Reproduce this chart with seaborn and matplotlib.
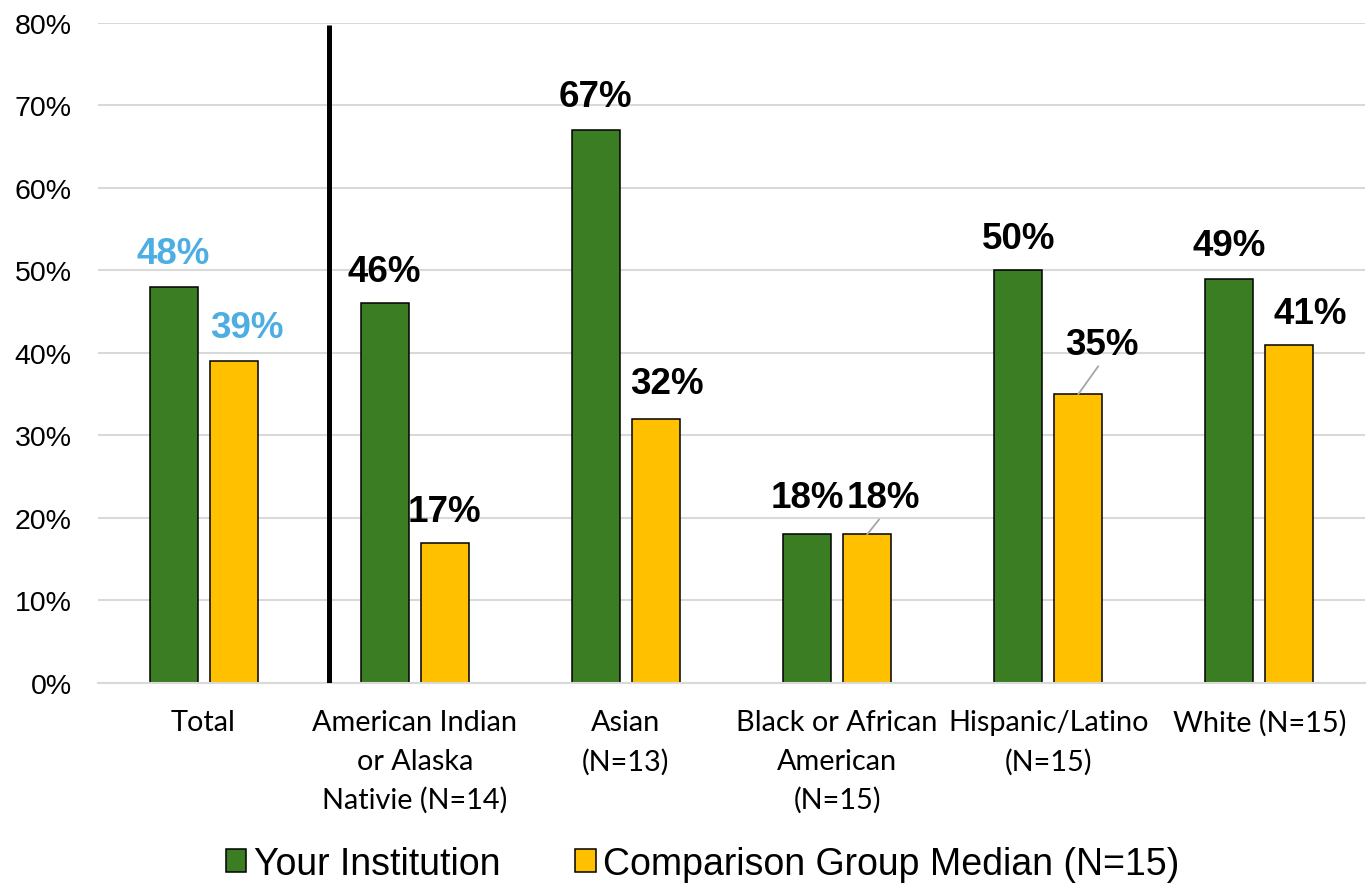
import matplotlib
matplotlib.use("Agg")
import matplotlib.pyplot as plt
from matplotlib.patches import Patch
from matplotlib.ticker import FuncFormatter
import seaborn as sns
import pandas as pd

# Completion rates by race/ethnicity
categories = [
    "Total",
    "American Indian\nor Alaska\nNativie (N=14)",
    "Asian\n(N=13)",
    "Black or African\nAmerican\n(N=15)",
    "Hispanic/Latino\n(N=15)",
    "White (N=15)",
]
series_names = ["Your Institution", "Comparison Group Median (N=15)"]
your_institution = [48, 46, 67, 18, 50, 49]
comparison_median = [39, 17, 32, 18, 35, 41]
y_ticks = [0, 10, 20, 30, 40, 50, 60, 70, 80]

GREEN = "#3A7D22"
GOLD = "#FFC000"
BLUE = "#4DAEE3"
GRID = "#D9D9D9"

df = pd.DataFrame({
    "category": categories * 2,
    "series": [series_names[0]] * len(categories) + [series_names[1]] * len(categories),
    "value": your_institution + comparison_median,
})

fig = plt.figure(figsize=(13.7, 8.87), dpi=100)
ax = fig.add_axes([0.0715, 0.2289, 0.9249, 0.7441])

sns.barplot(
    data=df, x="category", y="value", hue="series",
    order=categories, hue_order=series_names,
    palette=[GREEN, GOLD], saturation=1, width=0.568, gap=0.2,
    edgecolor="black", linewidth=1.1, legend=False, ax=ax,
)

ax.set_xlim(-0.5, len(categories) - 0.5)
ax.set_ylim(0, 80)
ax.set_yticks(y_ticks)
ax.yaxis.set_major_formatter(FuncFormatter(lambda v, _: f"{v:.0f}%"))
ax.set_xlabel("")
ax.set_ylabel("")
ax.grid(axis="y", color=GRID, linewidth=1.5, zorder=0)
ax.set_axisbelow(True)
for side in ["top", "right", "left"]:
    ax.spines[side].set_visible(False)
ax.spines["bottom"].set_color(GRID)
ax.spines["bottom"].set_linewidth(1.5)
ax.tick_params(axis="both", length=0)
ax.tick_params(axis="y", pad=19, labelsize=20.5)
ax.tick_params(axis="x", pad=19)
for lbl in ax.get_yticklabels():
    lbl.set_fontfamily("Liberation Sans")
for lbl in ax.get_xticklabels():
    lbl.set_fontfamily("Lato")
    lbl.set_fontsize(20.8)
    lbl.set_linespacing(1.58)
    lbl.set_horizontalalignment("center")

# separator between the total and the subgroups
ax.vlines(0.594, 0, 79.7, color="black", linewidth=3.6, zorder=3)

# value labels: (dx, dy) pixel offsets of each label from its bar top
label_offsets = [
    [(0, 33), (0, 32), (0, 34), (0, 37), (0, 32), (0, 33)],
    [(13, 34), (0, 31), (11, 35), (16, 37), (24, 50), (21, 31)],
]
leader_lines = {(1, 3), (1, 4)}
for s, container in enumerate(ax.containers):
    for i, bar in enumerate(container.patches):
        val = [your_institution, comparison_median][s][i]
        cx = bar.get_x() + bar.get_width() / 2
        top = bar.get_height()
        dx, dy = label_offsets[s][i]
        color = BLUE if i == 0 else "black"
        ax.annotate(
            f"{val}%", xy=(cx, top), xytext=(dx, dy),
            textcoords="offset pixels", ha="center", va="center",
            fontsize=26.5, fontweight="bold", family="Liberation Sans",
            color=color, zorder=5,
        )
        if (s, i) in leader_lines:
            ax.annotate(
                "", xy=(cx, top), xytext=(dx - 4, dy - 22),
                textcoords="offset pixels",
                arrowprops=dict(arrowstyle="-", color="#A6A6A6", lw=1.3,
                                shrinkA=0, shrinkB=0),
            )

handles = [
    Patch(facecolor=GREEN, edgecolor="black", linewidth=1.1, label=series_names[0]),
    Patch(facecolor=GOLD, edgecolor="black", linewidth=1.1, label=series_names[1]),
]
fig.legend(
    handles=handles, loc="center", bbox_to_anchor=(0.513, 0.025), ncol=2,
    frameon=False, prop={"family": "Liberation Sans", "size": 27},
    handlelength=0.55, handleheight=0.55, handletextpad=0.2, columnspacing=2.0,
)

fig.savefig("out.png", dpi=100)
